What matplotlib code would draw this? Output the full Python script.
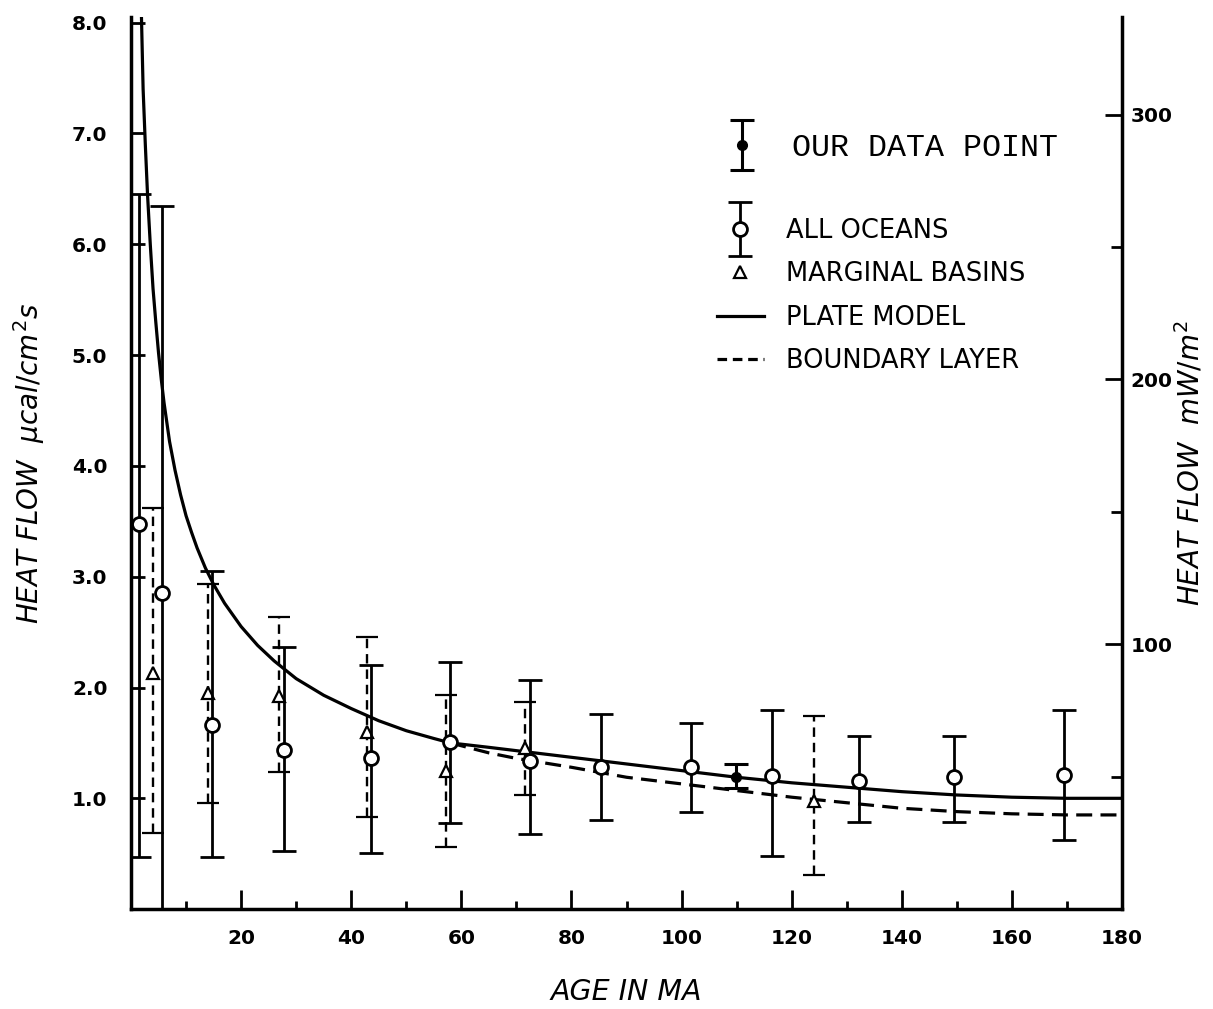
import matplotlib
matplotlib.use("Agg")
import matplotlib.pyplot as plt
from matplotlib.legend_handler import HandlerErrorbar
from matplotlib.lines import Line2D

# ---------------- data ----------------
ocean_age = [1.45, 5.6, 14.8, 27.8, 43.5, 57.9, 72.5, 85.3, 101.8, 116.4, 132.2, 149.4, 169.5]
ocean_q = [3.48, 2.85, 1.66, 1.44, 1.36, 1.51, 1.34, 1.28, 1.28, 1.20, 1.16, 1.19, 1.21]
ocean_hi = [6.45, 6.35, 3.05, 2.37, 2.20, 2.23, 2.07, 1.76, 1.68, 1.80, 1.56, 1.56, 1.80]
ocean_lo = [0.47, 0.0, 0.47, 0.52, 0.51, 0.78, 0.68, 0.80, 0.88, 0.48, 0.79, 0.79, 0.62]

basin_age = [4.05, 14.0, 26.9, 42.8, 57.3, 71.6, 124.0]
basin_q = [2.13, 1.95, 1.92, 1.60, 1.25, 1.45, 0.98]
basin_hi = [3.62, 2.93, 2.64, 2.46, 1.93, 1.87, 1.74]
basin_lo = [0.69, 0.96, 1.24, 0.83, 0.56, 1.03, 0.31]

our_age = [109.8]
our_q = [1.19]
our_hi = [1.31]
our_lo = [1.09]

plate_age = [1.9, 2.2, 2.6, 3.0, 3.5, 4.0, 4.5, 5.0, 5.5, 6.0, 7.0, 8.0, 9.0, 10, 11, 12,
             13.5, 15, 17, 20, 23, 26, 30, 35, 40, 45, 50, 55, 58, 65, 70, 80, 90, 100,
             110, 120, 130, 140, 150, 160, 170, 180]
plate_q = [8.05, 7.4, 6.9, 6.45, 6.0, 5.6, 5.3, 5.02, 4.78, 4.57, 4.22, 3.96, 3.74, 3.55,
           3.40, 3.26, 3.08, 2.93, 2.76, 2.55, 2.38, 2.24, 2.08, 1.93, 1.81, 1.70, 1.61,
           1.54, 1.50, 1.46, 1.43, 1.37, 1.31, 1.25, 1.19, 1.14, 1.10, 1.06, 1.03, 1.01,
           1.00, 1.00]

bl_age = [58, 65, 70, 80, 90, 100, 110, 120, 130, 140, 150, 160, 170, 180]
bl_q = [1.50, 1.41, 1.36, 1.28, 1.19, 1.13, 1.07, 1.01, 0.96, 0.91, 0.88, 0.86, 0.85, 0.85]

x_ticks = [20, 40, 60, 80, 100, 120, 140, 160, 180]
y_ticks = [1, 2, 3, 4, 5, 6, 7, 8]
mw_ticks = [100, 200, 300]
CONV = 41.84  # mW/m^2 per ucal/cm^2 s

# ---------------- figure ----------------
plt.rcParams['font.family'] = ['DejaVu Sans']
fig = plt.figure(figsize=(12.13, 10.09), dpi=100)
ax = fig.add_axes([0.108, 0.099, 0.925 - 0.108, 0.983 - 0.099])

ax.plot(plate_age, plate_q, color='black', lw=2.3, zorder=3)
ax.plot(bl_age, bl_q, color='black', lw=2.3, ls=(0, (5, 2.6)), zorder=3)

def errs(q, hi, lo):
    return [[v - l for v, l in zip(q, lo)], [h - v for v, h in zip(q, hi)]]

eb_basin = ax.errorbar(basin_age, basin_q, yerr=errs(basin_q, basin_hi, basin_lo),
                       fmt='^', ms=9, mfc='white', mec='black', mew=1.6,
                       ecolor='black', elinewidth=1.7, capsize=8, capthick=1.7, zorder=4)
for lc in eb_basin[2]:
    lc.set_linestyle((0, (4, 2.5)))

eb_ocean = ax.errorbar(ocean_age, ocean_q, yerr=errs(ocean_q, ocean_hi, ocean_lo),
                       fmt='o', ms=10, mfc='white', mec='black', mew=2,
                       ecolor='black', elinewidth=2, capsize=8.5, capthick=2, zorder=5)

eb_our = ax.errorbar(our_age, our_q, yerr=errs(our_q, our_hi, our_lo),
                     fmt='o', ms=7, mfc='black', mec='black',
                     ecolor='black', elinewidth=2.2, capsize=8.5, capthick=2.2, zorder=6)

ax.set_xlim(0, 180)
ax.set_ylim(0, 8.05)
ax.set_xticks(x_ticks)
ax.set_xticks([10, 30, 50, 70, 90, 110, 130, 150, 170], minor=True)
ax.set_yticks(y_ticks)
ax.set_yticklabels([f"{v:.1f}" for v in y_ticks])

for s in ['top', 'right']:
    ax.spines[s].set_visible(False)
for s in ['left', 'bottom']:
    ax.spines[s].set_linewidth(2.5)

ax.tick_params(axis='both', which='major', direction='in', length=10, width=2,
               labelsize=14.5)
ax.tick_params(axis='y', which='major', pad=17)
ax.tick_params(axis='x', which='minor', direction='in', length=6, width=2)
ax.tick_params(axis='x', which='major', length=14, pad=14)
for lab in ax.get_xticklabels() + ax.get_yticklabels():
    lab.set_fontweight('bold')

ax.set_xlabel('AGE IN MA', fontsize=20.5, style='italic', labelpad=22)
ax.set_ylabel(r'HEAT FLOW  $\mathit{\mu cal/cm^2 s}$', fontsize=20, style='italic',
              labelpad=18)

sec = ax.secondary_yaxis('right', functions=(lambda y: y * CONV, lambda m: m / CONV))
sec.set_yticks(mw_ticks)
sec.set_yticks([50, 150, 250], minor=True)
sec.spines['right'].set_linewidth(2.5)
sec.tick_params(axis='y', which='major', direction='in', length=12, width=2,
                labelsize=14.5, pad=6)
sec.tick_params(axis='y', which='minor', direction='in', length=8, width=2)
for lab in sec.get_yticklabels():
    lab.set_fontweight('bold')
sec.set_ylabel(r'HEAT FLOW  $\mathit{mW/m^2}$', fontsize=20, style='italic', labelpad=1)

# ---------------- legends ----------------
hm = {type(eb_ocean): HandlerErrorbar(yerr_size=0.8)}
leg1 = ax.legend([eb_our], ['OUR DATA POINT'], loc='upper left',
                 bbox_to_anchor=(0.593, 0.870), frameon=False,
                 prop={'family': 'Liberation Mono', 'size': 22.8},
                 handlelength=1.5, handletextpad=0.8, borderpad=0, borderaxespad=0,
                 handler_map=hm)
ax.add_artist(leg1)

tri = Line2D([], [], ls='none', marker='^', ms=9, mfc='white', mec='black', mew=1.6)
pl = Line2D([], [], color='black', lw=2.3)
bl = Line2D([], [], color='black', lw=2.3, ls=(0, (3, 1.8)))
hm2 = {type(eb_ocean): HandlerErrorbar(yerr_size=1.05)}
leg2 = ax.legend([eb_ocean, tri, pl, bl],
                 ['ALL OCEANS', 'MARGINAL BASINS', 'PLATE MODEL', 'BOUNDARY LAYER'],
                 loc='upper left', bbox_to_anchor=(0.591, 0.775), frameon=False,
                 prop={'size': 18.5}, handlelength=1.85, handletextpad=0.85,
                 labelspacing=0.68, borderpad=0, borderaxespad=0, handler_map=hm2)

fig.savefig('out.png', dpi=100, facecolor='white')
